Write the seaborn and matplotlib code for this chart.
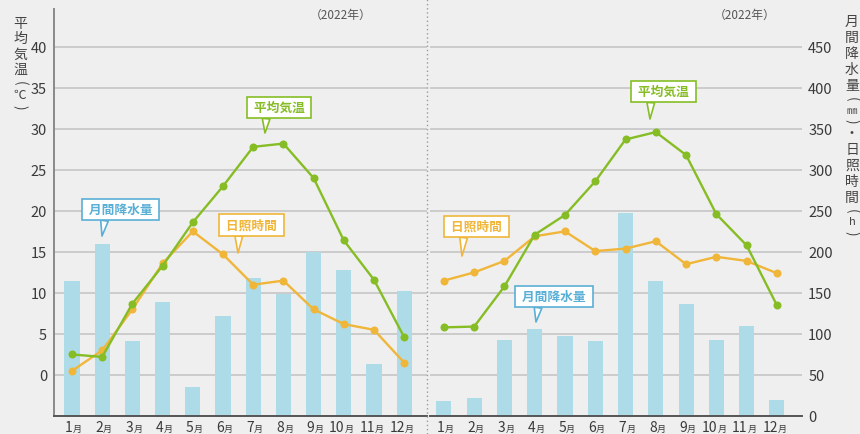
import numpy as np
import matplotlib
matplotlib.use("Agg")
import matplotlib.pyplot as plt
import matplotlib.transforms as mtransforms
from matplotlib.lines import Line2D
import seaborn as sns

sns.set_style("white")
plt.rcParams['font.family'] = ['Noto Sans CJK JP', 'DejaVu Sans']

# ------------------------------------------------------
# DATA (2022)
# ------------------------------------------------------

months = [str(m) for m in range(1, 13)]

# left panel
left_temp = [2.5, 2.2, 8.7, 13.3, 18.6, 23.0, 27.8, 28.2, 24.0, 16.4, 11.6, 4.6]      # deg C
left_sun = [55, 80, 130, 186, 225, 197, 160, 165, 130, 112, 105, 65]                  # h
left_rain = [164, 210, 91, 139, 35, 122, 168, 149, 200, 178, 63, 152]                 # mm

# right panel
right_temp = [5.8, 5.9, 10.8, 17.1, 19.5, 23.6, 28.7, 29.6, 26.8, 19.6, 15.8, 8.5]
right_sun = [165, 175, 189, 219, 225, 201, 204, 213, 185, 194, 189, 174]
right_rain = [18, 22, 93, 106, 98, 91, 247, 165, 137, 93, 110, 20]

# ------------------------------------------------------
# STYLE
# ------------------------------------------------------

BG = '#efefef'
BAR = '#addce8'
GREEN = '#86bd25'
ORANGE = '#f0b63a'
BLUE = '#5aafd6'
GRID = '#c9c9c9'
TXT = '#3a3a3a'

W, H = 860, 435

fig = plt.figure(figsize=(8.6, 4.35), dpi=100)
fig.patch.set_facecolor(BG)

ax_bottom = 1 - 417 / H
ax_height = 407 / H
axL = fig.add_axes([54 / W, ax_bottom, 373 / W, ax_height])
axR = fig.add_axes([430 / W, ax_bottom, 372 / W, ax_height])


def draw_panel(ax, rain, sun, temp, xlim, side):
    ax.set_facecolor(BG)
    sns.barplot(x=months, y=rain, color=BAR, width=0.5, saturation=1,
                linewidth=0, ax=ax)
    sns.pointplot(x=months, y=sun, color=ORANGE, errorbar=None, markers='o',
                  markersize=4.5, linewidth=1.7, ax=ax, zorder=3)
    ax.set_ylim(0, 496)
    ax.set_yticks(np.arange(0, 451, 50))
    ax.yaxis.grid(True, color=GRID, lw=1.3)
    ax.set_axisbelow(True)

    axT = ax.twinx()
    sns.pointplot(x=months, y=temp, color=GREEN, errorbar=None, markers='o',
                  markersize=4.5, linewidth=1.7, ax=axT, zorder=4)
    axT.set_ylim(-5, 44.6)
    axT.set_yticks(np.arange(0, 41, 5))
    ax.set_xlim(*xlim)

    for a in (ax, axT):
        a.set_xlabel('')
        a.set_ylabel('')
        for s in a.spines.values():
            s.set_visible(False)
    ax.spines['bottom'].set_visible(True)
    ax.spines['bottom'].set_color('#555555')
    ax.spines['bottom'].set_linewidth(1.4)
    ax.tick_params(axis='x', bottom=False, labelbottom=False)

    if side == 'left':
        ax.spines['left'].set_visible(True)
        ax.spines['left'].set_color('#8a8a8a')
        ax.spines['left'].set_linewidth(1.4)
        ax.tick_params(axis='y', left=False, right=False, labelleft=False, labelright=False)
        axT.yaxis.tick_left()
        axT.tick_params(axis='y', length=0, pad=5, labelsize=10.5, labelcolor=TXT,
                        labelleft=True, labelright=False)
    else:
        ax.yaxis.tick_right()
        ax.tick_params(axis='y', length=0, pad=4.5, labelsize=10.5, labelcolor=TXT,
                       labelright=True, labelleft=False)
        axT.tick_params(axis='y', left=False, right=False, labelleft=False, labelright=False)

    # month labels: number with a small 月
    trans = mtransforms.blended_transform_factory(ax.transData, ax.transAxes)
    for i, m in enumerate(months):
        ax.text(i + 0.03, -0.036, m, transform=trans, ha='right', va='baseline',
                fontsize=10, color=TXT)
        ax.text(i + 0.03, -0.036, '月', transform=trans, ha='left', va='baseline',
                fontsize=6.5, color=TXT)
    return axT


axLT = draw_panel(axL, left_rain, left_sun, left_temp, (-0.596, 11.755), 'left')
axRT = draw_panel(axR, right_rain, right_sun, right_temp, (-0.46, 11.83), 'right')

# dotted separator between the two panels
fig.add_artist(Line2D([427 / W, 427 / W], [0, 1], transform=fig.transFigure,
                      color='#9a9a9a', lw=1, ls=(0, (1, 2))))


# callouts (box centre and pointer tip in figure pixels from the top)
def callout(ax, text, color, box_xy, tip_xy):
    ax.annotate(' ' + text + ' ', xy=(tip_xy[0], H - tip_xy[1]), xycoords='figure pixels',
                xytext=(box_xy[0], H - box_xy[1]), textcoords='figure pixels',
                ha='center', va='center', fontsize=9.2, fontweight='bold', color=color,
                bbox=dict(boxstyle='square,pad=0.32', fc='white', ec=color, lw=1.2),
                arrowprops=dict(arrowstyle='wedge,tail_width=0.6,shrink_factor=0.5',
                                fc='white', ec=color, lw=1.2, relpos=(0.28, 0),
                                shrinkA=0, shrinkB=0),
                zorder=10)


callout(axLT, '平均気温', GREEN, (279, 108.5), (265, 134))
callout(axLT, '月間降水量', BLUE, (120.5, 210.5), (102, 237))
callout(axLT, '日照時間', ORANGE, (251.5, 226), (238, 254))
callout(axRT, '平均気温', GREEN, (663.5, 92.5), (650, 120))
callout(axRT, '月間降水量', BLUE, (554, 297.5), (536, 323))
callout(axRT, '日照時間', ORANGE, (476.5, 227.5), (462, 257))

# year notes
fig.text(372 / W, 1 - 15 / H, '（2022年）', ha='right', va='center', fontsize=8.5, color='#555555')
fig.text(775 / W, 1 - 15 / H, '（2022年）', ha='right', va='center', fontsize=8.5, color='#555555')


# vertical axis titles, one upright character under the other
# (char, advance px, text, size, rotation)
SPECIAL = {
    '（': (11, '(', 10, -90),
    '）': (11, ')', 10, -90),
    '㎜': (11, '㎜', 7.5, 0),
    'h': (11, 'h', 8, 0),
    '℃': (13, '℃', 9, 0),
    '・': (15, '・', 10, 0),
}


def stack_text(x, y_top, chars, step):
    y = y_top
    for ch in chars:
        adv, glyph, size, rot = SPECIAL.get(ch, (step, ch, 10, 0))
        fig.text(x / W, 1 - (y + adv / 2) / H, glyph, ha='center', va='center',
                 fontsize=size, rotation=rot, color='#444444')
        y += adv


stack_text(20, 16, '平均気温（℃）', 15.5)
stack_text(852, 14, '月間降水量（㎜）・日照時間（h）', 16)

plt.savefig('out.png', dpi=100, facecolor=BG)
plt.close('all')
